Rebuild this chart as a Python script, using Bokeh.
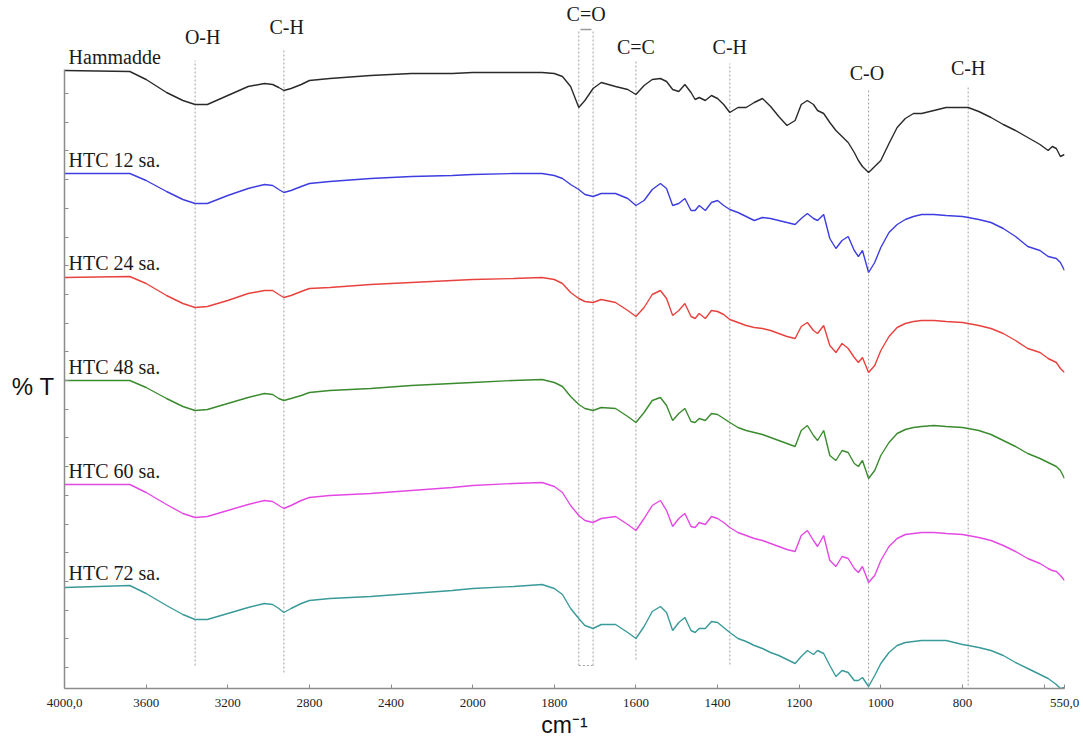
import numpy as np
from bokeh.plotting import figure
from bokeh.models import Range1d, FixedTicker, CustomJSTickFormatter
from bokeh.embed import file_html
from bokeh.resources import INLINE
from bokeh.core.properties import value

# ---------------- data ----------------
wavenumber = [4000, 3680, 3600, 3500, 3420, 3360, 3300, 3200, 3100, 3020,
              2980, 2950, 2925, 2890, 2840, 2800, 2700, 2500, 2300, 2100,
              2000, 1900, 1830, 1800, 1780, 1760, 1740, 1725, 1705, 1685,
              1650, 1620, 1600, 1580, 1560, 1540, 1525, 1510, 1495, 1480,
              1465, 1455, 1445, 1430, 1415, 1400, 1385, 1370, 1350, 1330,
              1310, 1290, 1270, 1250, 1230, 1210, 1195, 1180, 1165, 1155,
              1140, 1125, 1110, 1095, 1080, 1065, 1055, 1045, 1030, 1015,
              1000, 980, 960, 940, 920, 900, 870, 840, 800, 786,
              760, 730, 700, 670, 640, 610, 590, 580, 570, 560,
              550]

# %T (stacked / offset, arbitrary units)
hammadde = [618, 617, 609, 596, 588, 584, 584, 593, 602, 605,
            604, 601, 598, 600, 604, 608, 610, 613, 615, 615,
            616, 616, 616, 615, 612, 602, 581, 588, 600, 606,
            602, 599, 594, 603, 609, 610, 607, 599, 597, 604,
            596, 589, 591, 588, 593, 590, 584, 576, 581, 581,
            586, 590, 582, 572, 563, 568, 584, 588, 584, 578,
            575, 566, 558, 552, 546, 536, 528, 522, 516, 522,
            528, 545, 561, 570, 575, 575, 578, 581, 581, 581,
            577, 571, 564, 558, 551, 544, 538, 542, 540, 532,
            534]
htc12 = [515, 515, 508, 497, 489, 485, 485, 493, 500, 504,
         503, 499, 496, 498, 502, 505, 507, 510, 512, 513,
         514, 515, 515, 513, 510, 504, 499, 494, 492, 495,
         495, 490, 483, 488, 499, 505, 500, 483, 485, 490,
         478, 478, 483, 478, 486, 488, 483, 479, 476, 472,
         468, 471, 470, 468, 466, 464, 470, 475, 470, 468,
         474, 450, 440, 448, 452, 438, 432, 438, 416, 426,
         441, 456, 464, 469, 472, 474, 474, 473, 472, 471,
         469, 466, 460, 452, 442, 438, 432, 431, 430, 426,
         418]
htc24 = [411, 412, 405, 393, 385, 381, 382, 388, 395, 398,
         398, 394, 391, 393, 397, 400, 401, 404, 406, 408,
         409, 410, 411, 409, 405, 396, 390, 387, 386, 389,
         386, 378, 372, 381, 394, 398, 390, 373, 378, 385,
         372, 370, 375, 370, 378, 377, 374, 369, 366, 363,
         361, 360, 358, 355, 352, 350, 362, 366, 358, 355,
         363, 343, 336, 345, 340, 331, 326, 331, 316, 323,
         338, 352, 361, 365, 367, 368, 368, 367, 366, 365,
         363, 360, 355, 348, 340, 336, 330, 328, 326, 320,
         316]
htc48 = [308, 308, 301, 290, 282, 278, 279, 285, 291, 295,
         294, 290, 288, 290, 293, 296, 298, 300, 303, 305,
         306, 308, 309, 306, 302, 292, 284, 280, 278, 281,
         280, 272, 266, 276, 288, 291, 283, 268, 275, 280,
         267, 266, 270, 268, 275, 274, 270, 266, 261, 258,
         256, 254, 251, 248, 245, 242, 258, 263, 253, 248,
         258, 233, 228, 238, 236, 225, 222, 228, 210, 218,
         233, 246, 255, 259, 261, 262, 263, 262, 261, 260,
         258, 254, 248, 242, 235, 230, 226, 224, 222, 218,
         210]
htc60 = [204, 204, 196, 184, 175, 171, 172, 178, 184, 188,
         187, 183, 180, 183, 188, 191, 193, 195, 198, 201,
         203, 205, 206, 202, 196, 183, 173, 168, 166, 170,
         172, 164, 158, 170, 183, 188, 178, 162, 170, 175,
         162, 161, 166, 164, 172, 170, 166, 161, 156, 153,
         150, 148, 145, 142, 139, 137, 153, 158, 148, 142,
         153, 128, 122, 132, 130, 120, 116, 122, 106, 113,
         128, 142, 150, 154, 155, 156, 156, 155, 154, 153,
         151, 148, 143, 137, 130, 125, 120, 118, 117, 113,
         108]
htc72 = [101, 103, 95, 83, 74, 69, 69, 75, 81, 85,
         84, 80, 76, 80, 85, 88, 90, 92, 95, 98,
         100, 102, 104, 100, 94, 80, 70, 63, 60, 64,
         64, 56, 50, 62, 77, 82, 76, 58, 66, 71,
         58, 56, 60, 60, 67, 66, 61, 56, 50, 47,
         43, 40, 36, 33, 29, 25, 32, 38, 34, 38,
         35, 23, 12, 18, 16, 8, 8, 11, 2, 13,
         25, 36, 43, 46, 47, 48, 48, 48, 44, 43,
         41, 38, 33, 26, 20, 14, 10, 7, 4, 0,
         1]

series_names = ["Hammadde", "HTC 12 sa.", "HTC 24 sa.", "HTC 48 sa.", "HTC 60 sa.", "HTC 72 sa."]
series_values = [hammadde, htc12, htc24, htc48, htc60, htc72]
series_colors = ["#2a2a2a", "#3d3de0", "#e8423e", "#3a8a2e", "#e448e4", "#3a9a9a"]
series_label_y = [632, 529, 426, 322, 218, 116]

band_names = ["O-H", "C-H", "C=O", "C=C", "C-H", "C-O", "C-H"]
band_label_wn = [3323, 2911, 1722, 1600, 1370, 1034, 786]
band_label_y = [652, 662, 675, 642, 642, 616, 621]
band_line_wn = [3360, 2925, 1740, 1705, 1600, 1370, 1030, 786]
band_line_top = [628, 639, 659, 659, 629, 625, 600, 603]
band_line_bottom = [23, 16, 23, 23, 29, 24, 0, 3]

tick_wn = [4000, 3600, 3200, 2800, 2400, 2000, 1800, 1600, 1400, 1200, 1000, 800, 550]
tick_labels = ["4000,0", "3600", "3200", "2800", "2400", "2000", "1800", "1600",
               "1400", "1200", "1000", "800", "550,0"]
minor_tick_wn = [600]


# split x scale: above 2000 cm-1 compressed by a factor of two
def wn_to_u(w):
    w = np.asarray(w, dtype=float)
    return np.where(w >= 2000, 4000 - w, 2000 + 2 * (2000 - w))


p = figure(width=1083, height=740, x_range=Range1d(0, 4900), y_range=Range1d(0, 688),
           output_backend="svg", toolbar_location=None, title=None,
           min_border_left=64, min_border_right=19, min_border_top=0, min_border_bottom=52)
p.xgrid.visible = False
p.ygrid.visible = False
p.outline_line_color = None
p.background_fill_color = "white"
p.border_fill_color = "white"

# band marker lines
p.segment(x0=wn_to_u(band_line_wn), y0=band_line_bottom,
          x1=wn_to_u(band_line_wn), y1=band_line_top,
          line_color="#a0a0a0", line_dash="2 2", line_width=1)
# C=O box: top cap and bottom
p.segment(x0=wn_to_u([1736])[0], y0=659, x1=wn_to_u([1709])[0], y1=659,
          line_color="#9a9a9a", line_width=1.5)
p.segment(x0=wn_to_u([1740])[0], y0=23, x1=wn_to_u([1705])[0], y1=23,
          line_color="#a0a0a0", line_dash="2 2", line_width=1)

u = wn_to_u(wavenumber)
for vals, col in zip(series_values, series_colors):
    p.line(u, vals, line_color=col, line_width=1.4)

p.text(x=wn_to_u([3980] * len(series_names)), y=series_label_y, text=series_names,
       text_font=value("Liberation Serif"), text_font_size="20px", text_color="#1a1a1a",
       text_align="left", text_baseline="middle")
p.text(x=wn_to_u(band_label_wn), y=band_label_y, text=band_names,
       text_font=value("Liberation Serif"), text_font_size="20px", text_color="#1a1a1a",
       text_align="center", text_baseline="middle")

# axes
xa = p.xaxis[0]
xa.ticker = FixedTicker(ticks=[int(v) for v in wn_to_u(tick_wn)],
                        minor_ticks=[int(v) for v in wn_to_u(minor_tick_wn)])
xa.major_label_overrides = {int(k): lab for k, lab in zip(wn_to_u(tick_wn), tick_labels)}
xa.axis_line_color = "#8c8c8c"
xa.axis_line_width = 1.5
xa.major_tick_in = 4
xa.major_tick_out = 0
xa.minor_tick_in = 4
xa.minor_tick_out = 0
xa.major_tick_line_color = "#8c8c8c"
xa.minor_tick_line_color = "#8c8c8c"
xa.major_label_standoff = 10
xa.major_label_text_font = "Liberation Serif"
xa.major_label_text_font_size = "13px"
xa.major_label_text_color = "#222222"
xa.axis_label = "cm\u207b\u00b9"
xa.axis_label_text_font = "Liberation Sans"
xa.axis_label_text_font_size = "23px"
xa.axis_label_text_font_style = "normal"
xa.axis_label_text_color = "#111111"
xa.axis_label_standoff = 2

ya = p.yaxis[0]
ya.ticker = FixedTicker(ticks=[round(21 + 28.7 * k, 1) for k in range(21)], minor_ticks=[])
ya.formatter = CustomJSTickFormatter(code="return ''")
ya.bounds = (0, 619)
ya.axis_line_color = "#8c8c8c"
ya.axis_line_width = 1.5
ya.major_tick_in = 4
ya.major_tick_out = 0
ya.minor_tick_in = 0
ya.minor_tick_out = 0
ya.major_tick_line_color = "#8c8c8c"
ya.major_label_standoff = 0
# blank leading line pushes the label below the frame centre, as in the reference
ya.axis_label = "\n% T"
ya.axis_label_orientation = "horizontal"
ya.axis_label_text_font = "Liberation Sans"
ya.axis_label_text_font_size = "24px"
ya.axis_label_text_line_height = 3.1
ya.axis_label_text_font_style = "normal"
ya.axis_label_text_color = "#111111"
ya.axis_label_standoff = 10

open("out.html", "w").write(file_html(p, INLINE))
